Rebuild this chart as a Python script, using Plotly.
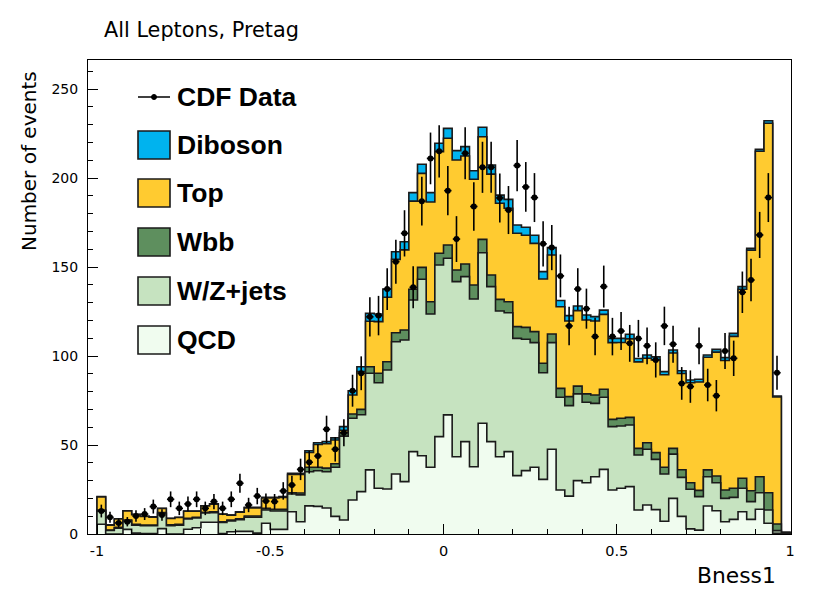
import numpy as np
import plotly.graph_objects as go

# ---------------- data (80 bins from -1 to 1) ----------------
BIN_LO, BIN_HI, N_BINS = -1.0, 1.0, 80

qcd = [5.5, 0, 0, 2.6, 0.5, 0.3, 0.3, 3, 0, 0,
       2.7, 3.5, 6.6, 6.6, 0.3, 1.3, 1.5, 1.5, 0.5, 6,
       2.6, 2.6, 12.5, 6.9, 15.8, 15.5, 14.6, 9.9, 7.9, 19.1,
       23.8, 36, 25.7, 25.3, 33.7, 29.4, 46.3, 44, 37.5, 54.7,
       66.9, 43.4, 51.9, 37.8, 62.2, 51.9, 43.4, 46.3, 32.8, 35.6,
       37.5, 30.7, 47.6, 24.7, 21.3, 30, 28.8, 32.2, 36.3, 24.7,
       25.7, 26.6, 13.5, 16.3, 13.7, 7.2, 20, 9.9, 2.9, 2.2,
       15.7, 13.1, 6.9, 8.2, 12.5, 8.2, 13.9, 6, 0.4, 0]

wzjets = [7.5, 2, 3.3, 4.9, 4.5, 4.3, 4.3, 8.5, 4.7, 5,
          5.7, 5.5, 5.2, 5.4, 6.2, 6.1, 6.5, 7.9, 8.9, 7.5,
          10.3, 10.3, 10, 15.1, 19.2, 20, 20.4, 27.6, 47.1, 45.9,
          43.2, 54.3, 59.3, 66.8, 74.3, 79.6, 85.2, 99.1, 86.1, 96.4,
          88, 98.4, 92.7, 94.2, 95.8, 87.1, 81.9, 78, 77.1, 73.8,
          70, 59.9, 59.9, 52.1, 50.8, 48.7, 45.2, 41.2, 40.5, 35.6,
          35, 34.6, 30.9, 31.3, 28.2, 26.5, 24.9, 21.9, 22.2, 18.8,
          16.5, 15.7, 13.1, 12.4, 13.2, 10, 9.3, 7.5, 1.5, 0.3]

wbb = [0.5, 0.2, 0.4, 0.4, 0.5, 0.4, 0.4, 0.5, 0.4, 0.4,
       0.4, 0.4, 0.4, 0.5, 0.4, 0.5, 0.5, 0.7, 0.7, 0.9,
       1.0, 1.0, 0.7, 1.0, 2.5, 2, 2, 2, 1.9, 2.4,
       3, 3.7, 5.3, 4.7, 5.1, 5.6, 6, 6.7, 6.9, 6.6,
       7.5, 6.5, 7.1, 7.9, 7.5, 6.5, 6.5, 6.2, 6.6, 6.7,
       6.2, 5.3, 4.9, 5, 5.1, 4.4, 4.7, 4.7, 4.5, 4.1,
       4.3, 4.3, 3.7, 3.7, 3.8, 3.8, 3.2, 4.3, 3.7, 3.5,
       3.8, 3.8, 4.7, 5.1, 5.6, 6.1, 9, 9.7, 3.7, 0.2]

top = [7.3, 2.8, 4.7, 5.1, 5.4, 4.9, 4.5, 2.3, 3.6, 3.9,
       4.0, 3.4, 3.6, 4.3, 4.2, 2.7, 3.8, 4.6, 4.6, 5.8,
       6.3, 6.6, 10.2, 10.4, 8.3, 12.8, 13.8, 13.3, 1.4, 10.7,
       21.2, 25.5, 29, 36.2, 41.2, 45, 49.5, 52.8, 56, 57.1,
       59.9, 61.8, 60.7, 59.4, 57.7, 56.7, 54, 52.5, 52.5, 51.7,
       49.6, 47.4, 44.3, 45.9, 42.5, 42.4, 41.5, 41.6, 42.1, 43.1,
       42.6, 44.1, 48.6, 47.4, 52.1, 52, 53.6, 54.1, 56.2, 60.9,
       63.3, 69.6, 72.8, 85.3, 106.2, 135.2, 182.8, 207.6, 71.4, 0.5]

diboson = [0.2, 0.1, 0.1, 0.1, 0.1, 0.1, 0.1, 0.1, 0.1, 0.1,
           0.1, 0.1, 0.1, 0.1, 0.1, 0.1, 0.2, 0.3, 0.3, 0.4,
           0.4, 0.5, 0.7, 0.7, 1.0, 1.0, 1.2, 1.2, 2.0, 2.4,
           2.8, 4.5, 4.3, 4.6, 4.3, 4.6, 4.8, 5.1, 5.3, 4.7,
           5.6, 5.3, 5.2, 4.8, 5.3, 5.1, 4.6, 5, 4.6, 4.5,
           4.5, 4.1, 4.2, 3.5, 3, 2.6, 2.8, 2.4, 2.4, 2.4,
           2.3, 2.6, 1.9, 1.9, 1.7, 1.7, 1.7, 1.5, 1.5, 1.5,
           1.3, 1.5, 1.6, 1.7, 1.5, 1.0, 1.1, 1.4, 0.5, 0]

cdf_data = [12.9, 9.4, 6.2, 6.9, 10.1, 11.2, 15.4, 10.7, 19.5, 14.4,
            16.9, 19.5, 14.4, 18.2, 14.4, 19.5, 28.5, 16.3, 21.3, 18.5,
            18.2, 24.2, 27.5, 36.3, 40.3, 43.8, 58.8, 47.6, 56.9, 80.5,
            90.3, 122, 122.7, 137.6, 153, 168.9, 138.6, 187, 211, 215,
            192.9, 165.7, 213.9, 184, 206, 206, 188.8, 182, 207, 195,
            189, 163, 160.9, 145, 116.9, 137.6, 126.6, 110.9, 139, 110.9,
            114, 107.1, 109.8, 105.7, 97.8, 116.9, 106.6, 84.6, 82.8, 105.7,
            83.7, 77.7, 102.8, 98.7, 135.8, 142.7, 168, 189, 90.6, None]

y_tick_vals = [0, 50, 100, 150, 200, 250]
x_tick_vals = [-1, -0.5, 0, 0.5, 1]
x_tick_text = ["-1", "-0.5", "0", "0.5", "1"]

legend_labels = ["CDF Data", "Diboson", "Top", "Wbb", "W/Z+jets", "QCD"]

# ---------------- styles ----------------
COL = {
    "Diboson": "#00b3ee",
    "Top": "#ffcb30",
    "Wbb": "#5e8f5e",
    "W/Z+jets": "#c6e3c0",
    "QCD": "#f0fcef",
}
LINE = "#1a1a1a"

edges = np.linspace(BIN_LO, BIN_HI, N_BINS + 1)
centers = 0.5 * (edges[:-1] + edges[1:])
half_w = 0.5 * (edges[1] - edges[0])

layers = [("QCD", qcd), ("W/Z+jets", wzjets), ("Wbb", wbb), ("Top", top), ("Diboson", diboson)]
cum = np.cumsum(np.array([np.array(v, dtype=float) for _, v in layers]), axis=0)

fig = go.Figure()

def step_xy(vals):
    x = np.concatenate([[edges[0]], edges[:-1], [edges[-1], edges[-1]]])
    y = np.concatenate([[0.0], vals, [vals[-1], 0.0]])
    return x, y

# draw from the top of the stack down, each filled to zero
for idx in range(len(layers) - 1, -1, -1):
    name = layers[idx][0]
    x, y = step_xy(cum[idx])
    fig.add_trace(go.Scatter(
        x=x, y=y, mode="lines", line=dict(shape="hv", color=LINE, width=1.6),
        fill="tozeroy", fillcolor=COL[name], name=name, showlegend=False,
        hoverinfo="skip"))

d = np.array([np.nan if v is None else v for v in cdf_data], dtype=float)
fig.add_trace(go.Scatter(
    x=centers, y=d, mode="markers",
    marker=dict(color="black", size=6),
    error_y=dict(type="data", array=np.sqrt(np.nan_to_num(d)), color="black", thickness=1.6, width=0),
    error_x=dict(type="constant", value=half_w * 0.85, color="black", thickness=1.6, width=0),
    name="CDF Data", showlegend=False))

# ---------------- layout ----------------
OFF = 8                          # page body margin of the browser
W, H = 830 - OFF, 595 - OFF
L, R, T, B = 88, 791, 60, 534    # plot-area box in screen pixels
def px(xs):
    return (xs - L) / (R - L)
def py(ys):
    return (B - ys) / (B - T)

x_per_px = 2.0 / 693.0
x_range = [-1 - 9 * x_per_px, 1 + 1 * x_per_px]
y_range = [0, (B - T) / 1.78]

shapes = []
annotations = []

# legend
rows = [97, 145, 193, 242, 291, 340]
bx0, bx1 = 138, 170
for lab, yc in zip(legend_labels, rows):
    if lab == "CDF Data":
        shapes.append(dict(type="line", xref="paper", yref="paper",
                           x0=px(bx0), x1=px(bx1), y0=py(yc), y1=py(yc),
                           line=dict(color="black", width=1.5)))
        shapes.append(dict(type="circle", xref="paper", yref="paper",
                           x0=px(151.5), x1=px(156.5), y0=py(yc - 2.5), y1=py(yc + 2.5),
                           fillcolor="black", line=dict(color="black", width=1)))
    else:
        shapes.append(dict(type="rect", xref="paper", yref="paper",
                           x0=px(bx0), x1=px(bx1), y0=py(yc - 14), y1=py(yc + 14),
                           fillcolor=COL[lab], line=dict(color=LINE, width=1.6)))
    annotations.append(dict(text="<b>%s</b>" % lab, xref="paper", yref="paper",
                            x=px(175), y=py(yc), xanchor="left", yanchor="middle",
                            showarrow=False,
                            font=dict(family="Liberation Sans, Arial", size=26.5, color="black")))

# title / axis titles
annotations.append(dict(text="All Leptons, Pretag", xref="paper", yref="paper",
                        x=px(102), y=py(30), xanchor="left", yanchor="middle", showarrow=False,
                        font=dict(family="DejaVu Sans", size=20.8, color="black")))
annotations.append(dict(text="Number of events", xref="paper", yref="paper",
                        x=px(29), y=py(161), xanchor="center", yanchor="middle", textangle=-90,
                        showarrow=False, font=dict(family="DejaVu Sans", size=20, color="black")))
annotations.append(dict(text="Bness1", xref="paper", yref="paper",
                        x=px(778), y=py(575), xanchor="right", yanchor="middle",
                        showarrow=False, font=dict(family="DejaVu Sans", size=21.8, color="black")))

fig.update_layout(
    width=W, height=H,
    margin=dict(l=L - OFF, r=830 - R, t=T - OFF, b=595 - B),
    paper_bgcolor="white", plot_bgcolor="white",
    showlegend=False,
    shapes=shapes, annotations=annotations,
    font=dict(family="DejaVu Sans", color="black"),
    xaxis=dict(range=x_range, showgrid=False, zeroline=False,
               showline=True, linecolor="black", linewidth=1, mirror=True,
               ticks="inside", ticklen=10, tickcolor="black", tickwidth=1,
               tickmode="array", tickvals=x_tick_vals, ticktext=x_tick_text,
               tickfont=dict(family="DejaVu Sans", size=14.5, color="black"),
               ticklabelstandoff=4,
               minor=dict(tickmode="array", tickvals=list(np.round(np.arange(-1, 1.0001, 0.1), 2)),
                          ticks="inside", ticklen=5, tickcolor="black", tickwidth=1, showgrid=False)),
    yaxis=dict(range=y_range, showgrid=False, zeroline=False,
               showline=True, linecolor="black", linewidth=1, mirror=True,
               ticks="inside", ticklen=10, tickcolor="black", tickwidth=1,
               tickmode="array", tickvals=y_tick_vals,
               tickfont=dict(family="DejaVu Sans", size=14, color="black"),
               ticklabelstandoff=6,
               minor=dict(tickmode="array", tickvals=list(range(0, 270, 10)),
                          ticks="inside", ticklen=5, tickcolor="black", tickwidth=1, showgrid=False)),
)

fig.write_html("out.html")
